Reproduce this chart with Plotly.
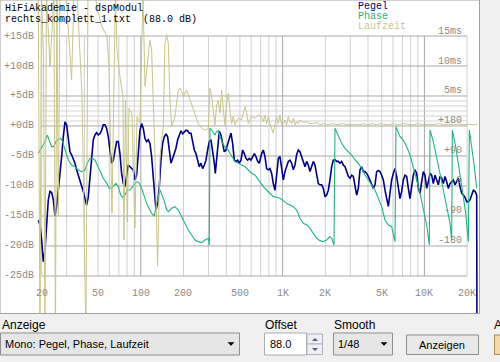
import math
import plotly.graph_objects as go

# ---------------- data ----------------
# Pegel (level, dB)
pegel_f = [18.93, 19.45, 19.98, 20.53, 21.09, 21.67, 22.27, 22.88, 23.50, 24.15, 24.81, 25.49, 26.19, 26.91,
           27.65, 28.40, 29.18, 29.98, 30.80, 31.65, 32.52, 33.41, 34.33, 35.27, 36.24, 37.23, 38.25, 39.30,
           40.38, 41.49, 42.63, 43.80, 45.00, 46.23, 47.50, 48.80, 50.14, 51.52, 52.93, 54.38, 55.88, 57.41,
           58.98, 60.60, 62.26, 63.97, 65.73, 67.53, 69.38, 71.29, 73.24, 75.25, 77.32, 79.44, 81.62, 83.86,
           86.16, 88.52, 90.95, 93.44, 96.01, 98.64, 101.35, 104.13, 106.99, 109.92, 112.94,
           116.0, 119.2, 122.5, 125.9, 127.9, 131.4, 135.0, 138.7, 142.5, 146.4, 150.5, 154.6, 158.8, 163.2,
           167.7, 172.3, 177.0, 181.9, 186.9, 192.0, 197.2, 202.6, 208.2, 213.9, 219.8, 225.8, 232.0, 238.4,
           244.9, 251.6, 258.5, 265.6, 272.9, 280.4, 288.1, 296.0, 304.1, 312.5, 321.1, 329.9, 335.2, 342.6,
           352.0, 357.7, 367.6, 377.6, 388.0, 398.6, 409.6, 420.8, 432.4, 444.2, 456.4, 469.0, 481.8, 495.0,
           508.6, 522.6, 536.9, 551.6, 566.8, 582.3, 598.3, 614.7, 631.6, 648.9, 666.7, 685.0,
           711.4, 730.9, 751.0, 771.6, 792.8, 814.5, 836.9, 859.9, 883.5, 907.7, 932.6, 958.2, 984.5, 1011.5,
           1039.2, 1067.7, 1097.0, 1127.1, 1158.1, 1189.9, 1222.5, 1256.0, 1290.5, 1325.9, 1362.3, 1399.7,
           1438.1, 1477.5, 1518.1, 1559.7, 1602.5, 1646.5, 1691.7, 1738.1, 1785.8, 1834.8, 1885.1, 1936.8,
           1990.0, 2044.6, 2100.7, 2158.3, 2217.5, 2278.4, 2340.9, 2405.1, 2471.1, 2538.9, 2608.6, 2680.2,
           2753.7, 2829.3, 2906.9, 2986.7, 3068.6, 3152.8, 3239.3, 3328.2, 3419.5, 3513.4, 3609.8, 3708.8,
           3810.6, 3915.2, 4022.6, 4133.0, 4246.4, 4362.9, 4482.6,
           4605.6, 4732.0, 4861.8, 4995.2, 5132.3, 5273.1, 5417.8, 5566.5, 5719.2, 5876.1, 6037.3, 6203.0,
           6373.2, 6548.1, 6727.8, 6912.4, 7102.1, 7296.9, 7497.1, 7702.8, 7914.2, 8131.4, 8354.5, 8583.7,
           8819.2, 9061.2, 9309.8, 9565.3, 9827.7, 10097, 10374, 10659, 10951, 11252, 11561, 11878, 12204,
           12539, 12883, 13236, 13599, 13973, 14356, 14750, 15155, 15570, 15998, 16437, 16888, 17351, 17827,
           18316, 18819, 19335, 19866, 20411, 20971, 21546, 22137, 22745, 23369, 23500]
pegel_db = [-15.7, -16.5, -19.0, -22.6, -20.7, -16.8, -12.3, -10.9, -11.1, -12.3, -15.0, -13.4, -10.7, -8.4,
            -5.1, -1.8, 0.7, 0.2, -2.3, -4.3, -4.8, -5.4, -6.2, -7.3, -8.2, -9.0, -9.8, -10.9,
            -12.1, -13.2, -11.8, -8.4, -5.1, -2.3, -1.5, -1.1, -1.5, -1.3, -0.7, 0.2, 0.2, -0.4,
            -1.8, -4.0, -6.2, -5.7, -3.7, -2.6, -2.6, -4.6, -7.9, -9.6, -10.1, -7.9, -6.5, -6.8,
            -7.1, -7.3, -9.0, -8.2, -4.6, -0.7, 0.4, -0.4, -2.1, -2.6, -2.3,
            -2.9, -5.1, -9.0, -13.4, -14.0, -12.9, -10.1, -5.7, -2.9, -1.8, -1.3, -1.8, -4.0, -6.2,
            -5.4, -4.6, -3.7, -2.3, -1.5, -0.8, -1.3, -0.9, -0.7, -0.8, -1.2, -1.2, -2.6, -4.0,
            -4.6, -5.7, -6.8, -6.2, -7.1, -6.5, -5.7, -4.0, -2.6, -2.3, -4.0, -6.2, -7.9, -5.7,
            -2.3, -0.9, -1.5, -2.9, -4.3, -4.0, -3.2, -2.1, -1.2, -2.9, -5.7, -5.9, -5.7, -6.2,
            -5.7, -4.0, -4.6, -5.4, -5.7, -5.4, -5.7, -5.1, -4.6, -5.1, -5.9, -6.2,
            -4.6, -4.0, -5.1, -7.1, -7.3, -7.1, -7.9, -9.6, -10.7, -8.2, -5.4, -5.1, -7.1, -9.0,
            -7.6, -6.5, -5.9, -5.7, -6.2, -7.3, -6.5, -4.8, -4.0, -4.3, -5.1, -6.2,
            -6.8, -5.9, -6.5, -7.6, -6.5, -5.9, -6.5, -7.9, -9.6, -9.8, -9.8, -10.4,
            -11.8, -11.5, -10.7, -9.0, -6.8, -5.7, -5.6, -5.9, -5.9, -6.2, -5.9, -6.5,
            -6.8, -7.6, -8.4, -8.7, -8.2, -8.4, -9.8, -11.5, -10.4, -7.3, -6.8, -7.6,
            -7.6, -7.9, -8.4, -9.0, -9.8, -10.4, -9.8,
            -7.6, -7.4, -7.6, -8.2, -9.0, -10.7, -12.3, -13.4, -11.2, -9.0, -7.9, -7.1,
            -8.4, -10.7, -12.1, -10.9, -9.0, -8.2, -8.4, -10.4, -12.1, -10.1, -8.2, -7.3,
            -7.9, -10.4, -11.2, -9.3, -7.6, -8.2, -10.4, -9.3, -7.9, -8.2, -9.6, -8.2, -9.0,
            -9.8, -8.4, -8.7, -9.6, -8.4, -9.3, -10.4, -9.6, -9.3, -9.0, -9.8, -9.3, -8.7, -10.1,
            -11.2, -11.5, -11.9, -12.6, -12.6, -12.3, -11.5, -10.7, -10.9, -11.5, -40.0]

# Phase (degrees)
phase_f = [18.93, 19.98, 21.09, 21.9, 22.7, 23.50, 24.4, 25.2, 26.19, 27.2, 28.1, 28.9, 29.98, 31.3,
           32.52, 34.33, 36.24, 38.25, 40.38, 41.9, 43.80, 45.7, 47.50, 49.3, 51.52, 54.38, 57.41, 59.9,
           62.26, 64.7, 66.8, 69.38, 72.1, 74.4, 77.32, 80.3, 83.86, 87.6, 90.95, 94.5, 97.6, 101.35,
           105.3, 109.92, 112.9, 119.2, 124.5, 129.3, 136.5, 140.2, 144.1, 148.0, 152.1, 156.3, 165.0,
           174.1, 183.8, 194.1, 204.8, 216.2, 228.3, 241.0, 254.4, 268.5, 283.5, 299.2, 304.0, 307.4,
           315.9, 324.5, 333.4, 342.6, 352.0, 361.6, 371.6, 381.7, 392.2, 414.0, 425.4, 437.1, 449.1,
           461.4, 487.0, 514.1, 542.7, 572.9, 604.8, 638.4, 673.9, 711.4, 730.9, 771.6, 814.5, 859.9,
           907.7, 958.2, 1011.5, 1067.7, 1127.1, 1189.9, 1256.0, 1325.9, 1399.7, 1477.5, 1559.7, 1646.5,
           1738.1, 1834.8, 1936.8, 2044.6, 2158.3, 2217.5, 2303.0, 2340.9, 2471.1, 2608.6, 2753.7,
           2906.9, 3068.6, 3239.3, 3419.5, 3609.8, 3810.6, 4022.6, 4246.4, 4482.6, 4732.0, 4995.2,
           5273.1, 5566.5, 5876.1, 6037.3, 6203.0, 6300.0, 6727.8, 7102.1, 7497.1, 7914.2, 8354.5,
           8819.2, 9309.8, 9827.7, 10374, 10830, 10951, 11561, 12204, 12883, 13599, 14356, 15155, 15570,
           15740, 16615, 17540, 18515, 19545, 20411, 20745, 21546, 22500, 23369]
phase_deg = [98, 118, 133, 153, 133, 118, 118, 133, 140, 143, 133, 113, 93, 73,
             63, 58, 48, 43, 48, 68, 83, 83, 78, 63, 43, 23, 8, -7,
             -7, 3, 8, -2, -27, -34, -27, -12, -12, -2, 8, 13, 8, -7,
             -32, -52, -62, -82, -90, -52, -12, -22, -37, -52, -72, -77, -67,
             -62, -72, -92, -112, -132, -147, -162, -167, -170, -162, -157, -177, 173,
             168, 158, 153, 163, 166, 148, 133, 123, 118, 108, 98, 88, 78,
             73, 68, 63, 58, 48, 38, 33, 18, 3, -2, -12, -22, -32,
             -34, -37, -44, -52, -57, -62, -72, -97, -112, -117, -127, -142,
             -157, -164, -167, -162, -152, -157, -177, 173, 148, 128, 113,
             103, 93, 78, 68, 53, 33, 18, 3, -12, -37, -62,
             -102, -117, -122, -142, -167, 178, 148, 138, 118, 93, 58,
             18, -22, -67, -117, -177, 168, 133, 88, 38, -12, -62, -112, -162,
             168, 118, 58, -12, -82, -167, 168, 118, 58, -7]

# Laufzeit (group delay, ms)
lauf_f = [18.9, 19.45, 19.9, 20.6, 21.1, 21.6, 22.9, 24.4, 25.0, 25.6, 26.2, 26.9, 29.7, 31.1, 32.5,
          33.8, 35.5, 38.5, 41.0, 42.4, 47.5, 49.9, 53.2, 57.7, 59.6, 62.6, 64.7, 66.2, 67.9, 71.3,
          74.8, 76.1, 77.9, 80.5, 82.5, 86.6, 90.9, 94.0, 98.6, 103.6, 107.0, 116.0, 119.2, 122.5,
          125.9, 131.4, 136.5, 144.1, 148.0, 152.1, 156.3, 158.0, 160.6, 165.0, 174.1, 183.8, 188.9,
          194.0, 199.4, 210.5, 216.2, 228.3, 241.0, 254.4, 268.5, 283.5, 299.2, 307.4, 315.9, 324.5,
          333.4, 342.6, 352.0, 361.6, 371.6, 381.7, 392.2, 403.0, 414.0, 425.4, 437.1, 449.0, 461.4,
          487.0, 514.1, 542.7, 557.6, 572.9, 604.8, 638.4, 673.9, 711.4, 730.9, 751.0, 771.6, 792.8,
          814.5, 859.9, 883.5, 907.7, 932.6, 958.2, 984.5, 1011.5, 1039.2, 1067.7, 1097.0, 1127.1,
          1158.1, 1189.9, 1222.5, 1256.0, 1290.5, 1325.9, 1399.7, 1477.5, 1559.7, 1646.5, 1738.1,
          1834.8, 1936.8, 2044.6, 2158.3, 2278.4, 2405.1, 2538.9, 2680.2, 2829.3, 2986.7, 3152.8,
          3328.2, 3513.4, 3708.8, 3915.2, 4133.0, 4362.9, 4605.6, 4861.8, 5132.3, 5566.5, 6037.3,
          6548.1, 7102.1, 7702.8, 8354.5, 9061.2, 9827.7, 10659, 11561, 12539, 13599, 14750, 15998,
          17351, 18819, 20411, 22137, 23600]
lauf_ms = [22, -35, 22, 12, -35, 22, 10, 22, -35, 22, -15, 22, 22, 14, 7.7,
           22, 22, 5, -35, 22, 22, 19, 16.5, 15, 10, -14.5, 10, 22, 12.7, 8.2,
           5, -19, 4.3, -16, 3, 2, -17, 1.5, 0.5, 22, 6.6, 14.3, 12.7, 4.3,
           -5, -23.4, -5, 0, 13.8, 15.2, 13.8, 9.9, 4.3, -0.1, 1.6, 6, 6.3,
           5.7, 4.9, 6, 5.2, 3.8, 2.1, 0.4, -0.4, -0.7, -0.4, 6.3, 4.9, 2.7,
           0.2, 3.5, 4.3, 2.2, 6, 2.7, 0.2, 3.8, 5.4, 2.7, 0.4, 1.6, 0.2,
           1.3, 1.0, 3.2, 2.2, 0.4, 1.6, 1.3, 1.8, 1.6, 0.7, 1.8, 0.4, 1.6,
           0.4, -1.2, 0.2, 1.6, 0.4, 1.8, 0.2, 0.4, 1.0, 0.2, 1.6, 0.7,
           0.4, 1.3, 0.2, 0.7, 0.4, 1.0, 0.6, 0.7, 0.4, 0.4, 0.6,
           0.2, 0.4, 0.2, 0.3, 0.4, 0.2, 0.3, 0.4, 0.2, 0.3, 0.2,
           0.3, 0.2, 0.4, 0.2, 0.3, 0.4, 0.2, 0.4, 0.3, 0.2, 0.4,
           0.2, 0.4, 0.3, 0.2, 0.4, 0.2, 0.3, 0.2, 0.4, 0.2, 0.3, 0.2,
           0.3, 0.2, 0.3, 0.2, 0.3]

x_tick_vals = [20, 50, 100, 200, 500, 1000, 2000, 5000, 10000, 20000]
x_tick_text = ["20", "50", "100", "200", "500", "1K", "2K", "5K", "10K", "20K"]
grid_minor_f = [20, 30, 40, 50, 60, 70, 80, 90, 200, 300, 400, 500, 600, 700, 800, 900,
                2000, 3000, 4000, 5000, 6000, 7000, 8000, 9000, 20000]
grid_major_f = [100, 1000, 10000]
db_ticks = [15, 10, 5, 0, -5, -10, -15, -20, -25]
db_text = ["+15dB", "+10dB", "+5dB", "+0dB", "-5dB", "-10dB", "-15dB", "-20dB", "-25dB"]
fine_grid_ms = [25 / 6, 20 / 6, 15 / 6, 10 / 6, 5 / 6]   # thin lines between 0 and 5 ms
ms_ticks = [15, 10, 5]
ms_text = ["15ms", "10ms", "5ms"]
ph_ticks = [180, 90, 0, -90, -180]
ph_text = ["+180", "+90", "0", "-90", "-180"]

# ---------------- geometry ----------------
W, H = 500, 362
PW, PH = 479, 313           # plot (white) area in pixels
X_RANGE = [1.007, 4.385]    # log10(Hz)
DB_RANGE = [-31.17, 21.0]
PH_RANGE = [(DB_RANGE[0] + 10) * 18, (DB_RANGE[1] + 10) * 18]


def PX(x):
    return x / PW


def PY(y):
    return (PH - y) / PH


C_PEGEL = "#000080"
C_PHASE = "#22b57e"
C_LAUF = "#c8c58c"
C_LABEL = "#8c8c8c"
MONO = "Liberation Mono, DejaVu Sans Mono, monospace"
SANS = "Liberation Sans, Arial, sans-serif"

fig = go.Figure()
fig.add_trace(go.Scatter(x=lauf_f, y=lauf_ms, yaxis="y3", mode="lines",
                         line=dict(color=C_LAUF, width=1), hoverinfo="skip"))
fig.add_trace(go.Scatter(x=phase_f, y=phase_deg, yaxis="y2", mode="lines",
                         line=dict(color=C_PHASE, width=1.1), hoverinfo="skip"))
fig.add_trace(go.Scatter(x=pegel_f, y=pegel_db, yaxis="y", mode="lines",
                         line=dict(color=C_PEGEL, width=1.6), hoverinfo="skip"))

shapes = []
# grid
for f in grid_minor_f + grid_major_f:
    shapes.append(dict(type="line", xref="x", yref="y", x0=f, x1=f, y0=-25, y1=15,
                       line=dict(color="#a8a8a8" if f in grid_major_f else "#d0d0d0", width=1),
                       layer="below"))
for d in fine_grid_ms:
    shapes.append(dict(type="line", xref="x", yref="y3", x0=20, x1=20000, y0=d, y1=d,
                       line=dict(color="#d4d4d4", width=1), layer="below"))
for d in db_ticks:
    shapes.append(dict(type="line", xref="x", yref="y", x0=20, x1=20000, y0=d, y1=d,
                       line=dict(color="#a8a8a8", width=1), layer="below"))
# plot frame
shapes.append(dict(type="rect", xref="paper", yref="paper", x0=PX(0), x1=PX(479.5), y0=PY(313.5), y1=PY(0),
                   line=dict(color="#a0a0a0", width=1), fillcolor="rgba(0,0,0,0)"))


def rect(x0, y0, x1, y1, fill, line="#a0a0a0"):
    shapes.append(dict(type="rect", xref="paper", yref="paper", x0=PX(x0), x1=PX(x1), y0=PY(y1), y1=PY(y0),
                       fillcolor=fill, line=dict(color=line, width=1)))


def tri(cx, cy, up=False, size=3.5, color="#000000"):
    if up:
        pts = [(cx - size, cy + size / 2), (cx + size, cy + size / 2), (cx, cy - size / 2)]
    else:
        pts = [(cx - size, cy - size / 2), (cx + size, cy - size / 2), (cx, cy + size / 2)]
    path = "M " + " L ".join(f"{PX(a)},{PY(b)}" for a, b in pts) + " Z"
    shapes.append(dict(type="path", xref="paper", yref="paper", path=path, fillcolor=color,
                       line=dict(color=color, width=0)))


# bottom controls
rect(0.5, 333, 239.5, 355, "#e6e6e6", "#8e8f8f")
tri(231, 344)
rect(264.5, 333, 306.5, 355, "#ffffff", "#abadb3")
rect(307, 334, 322.5, 344, "#eef0f3", "#b0b4ba")
rect(307, 344, 322.5, 354.5, "#eef0f3", "#b0b4ba")
tri(315, 339.5, up=True, size=3, color="#4d6185")
tri(315, 349.5, size=3, color="#4d6185")
rect(333.5, 333, 392.5, 355, "#e6e6e6", "#8e8f8f")
tri(384, 344)
rect(406.5, 335, 478.5, 354.5, "#e8e8e8", "#8e8f8f")
rect(494.5, 335, 506, 354.5, "#f3d9a8", "#b08850")

annotations = []


def txt(x, y, s, color="#000000", size=10, font=MONO, anchor="left", xref="paper", yref="paper",
        yshift=0, height=None):
    a = dict(x=x, y=y, xref=xref, yref=yref, text=s, showarrow=False,
             xanchor=anchor, yanchor="middle", yshift=yshift, borderpad=0,
             font=dict(family=font, size=size, color=color))
    if height is not None:
        a["height"] = height
    annotations.append(a)


txt(PX(4), PY(8), "HiFiAkademie - dspModul")
txt(PX(4), PY(19), "rechts_komplett_1.txt  (88.0 dB)")
txt(PX(357), PY(6), "Pegel", C_PEGEL, height=10)
txt(PX(357), PY(16), "Phase", C_PHASE, height=10)
txt(PX(357), PY(26), "Laufzeit", C_LAUF, height=10)
for v, s in zip(db_ticks, db_text):
    txt(PX(35), v, s, C_LABEL, anchor="right", yref="y")
for v, s in zip(ms_ticks, ms_text):
    txt(PX(463), v, s, C_LABEL, anchor="right", yref="y3", yshift=5)
for v, s in zip(ph_ticks, ph_text):
    txt(PX(463), v, s, C_LABEL, anchor="right", yref="y2", yshift=5)
for v, s in zip(x_tick_vals, x_tick_text):
    annotations.append(dict(x=math.log10(v), y=PY(293), xref="x", yref="paper", text=s, showarrow=False,
                            xanchor="center", yanchor="middle",
                            font=dict(family=MONO, size=10, color=C_LABEL)))

txt(PX(1), PY(325), "Anzeige", size=12, font=SANS)
txt(PX(264), PY(325), "Offset", size=12, font=SANS)
txt(PX(333), PY(325), "Smooth", size=12, font=SANS)
txt(PX(4), PY(344), "Mono: Pegel, Phase, Laufzeit", size=11, font=SANS)
txt(PX(269), PY(344), "88.0", size=11, font=SANS)
txt(PX(337), PY(344), "1/48", size=11, font=SANS)
txt(PX(442), PY(345), "Anzeigen", size=11, font=SANS, anchor="center")
txt(PX(493), PY(325), "A", size=12, font=SANS)

fig.update_layout(
    width=W, height=H,
    margin=dict(l=0, r=W - PW, t=0, b=H - PH, pad=0),
    paper_bgcolor="#f0f0f0", plot_bgcolor="#ffffff",
    showlegend=False,
    xaxis=dict(type="log", range=X_RANGE, showgrid=False, zeroline=False, showticklabels=False,
               ticks="", showline=False, fixedrange=True),
    yaxis=dict(range=DB_RANGE, showgrid=False, zeroline=False, showticklabels=False, ticks="",
               showline=False, fixedrange=True),
    yaxis2=dict(range=PH_RANGE, overlaying="y", showgrid=False, zeroline=False, showticklabels=False,
                ticks="", showline=False, fixedrange=True),
    yaxis3=dict(range=DB_RANGE, overlaying="y", showgrid=False, zeroline=False, showticklabels=False,
                ticks="", showline=False, fixedrange=True),
    shapes=shapes,
    annotations=annotations,
)

fig.write_html("out.html", config={"displayModeBar": False},
               post_script="document.body.style.margin='0px';document.body.style.padding='0px';"
                           "document.body.style.overflow='hidden';")
